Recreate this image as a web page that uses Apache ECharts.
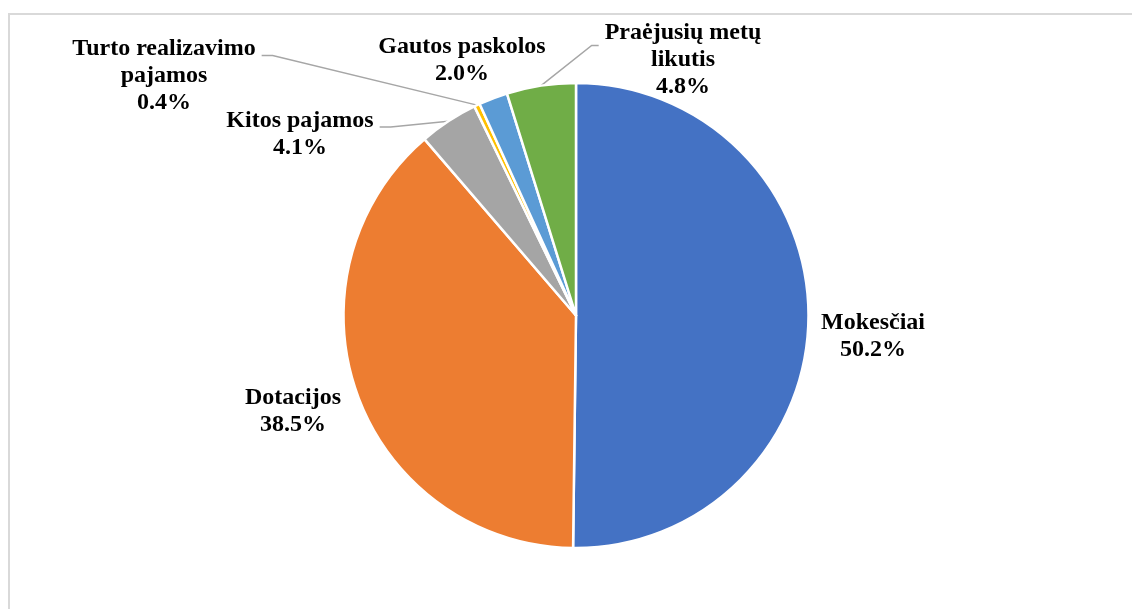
<!DOCTYPE html>
<html>
<head>
<meta charset="utf-8">
<script src="https://cdn.jsdelivr.net/npm/echarts@6/dist/echarts.min.js"></script>
<style>
  html, body { margin: 0; padding: 0; background: #fff; }
  #frame { position: absolute; left: 8px; top: 13px; width: 1130px; height: 600px; border: 2px solid #d9d9d9; box-sizing: border-box; }
  #chart { position: absolute; left: 0; top: 0; width: 1132px; height: 609px; }
</style>
</head>
<body>
<div id="frame"></div>
<div id="chart"></div>
<script>
// revenue structure, percent
const categories = ['Mokesčiai', 'Dotacijos', 'Kitos pajamos', 'Turto realizavimo\npajamos', 'Gautos paskolos', 'Praėjusių metų\nlikutis'];
const values = [50.2, 38.5, 4.1, 0.4, 2.0, 4.8];
const colors = ['#4472C4', '#ED7D31', '#A5A5A5', '#FFC000', '#5B9BD5', '#70AD47'];

// label centres [x, y] and whether a leader line is drawn
const labelPos = [[873, 336], [293, 411], [300, 134], [164, 76], [462, 60], [683, 60]];
const hasLine = [false, false, true, true, false, true];

const chart = echarts.init(document.getElementById('chart'));

chart.setOption({
  animation: false,
  color: colors,
  series: [
    {
      type: 'pie',
      center: [576, 315.5],
      radius: 232.5,
      startAngle: 90,
      clockwise: true,
      avoidLabelOverlap: false,
      itemStyle: { borderColor: '#fff', borderWidth: 2.5 },
      label: {
        show: true,
        position: 'outside',
        fontFamily: 'Liberation Serif',
        fontWeight: 'bold',
        fontSize: 24,
        lineHeight: 27,
        color: '#000',
        align: 'center',
        formatter: (p) => p.name + '\n' + p.value.toFixed(1) + '%',
      },
      labelLine: {
        show: true,
        smooth: false,
        lineStyle: { color: '#a6a6a6', width: 1.5 },
      },
      labelLayout: (params) => {
        const i = params.dataIndex;
        const pos = labelPos[i];
        const w = params.labelRect.width;
        const h = params.labelRect.height;
        const res = { x: pos[0], y: pos[1], align: 'center', verticalAlign: 'middle' };
        if (hasLine[i] && params.labelLinePoints) {
          const edge = params.labelLinePoints[0];
          const top = pos[1] - h / 2;
          if (i === 5) {
            // leaves the left side of the first row
            const ly = top + 26;
            const lx = pos[0] - w / 2 - 6;
            res.labelLinePoints = [edge, [lx - 7, ly], [lx, ly]];
          } else {
            const ly = top + 20;
            const lx = pos[0] + w / 2 + 6;
            res.labelLinePoints = [edge, [lx + 11, ly], [lx, ly]];
          }
        }
        return res;
      },
      data: categories.map((name, i) => ({
        name: name,
        value: values[i],
        labelLine: { show: hasLine[i] },
      })),
    },
  ],
});
</script>
</body>
</html>
